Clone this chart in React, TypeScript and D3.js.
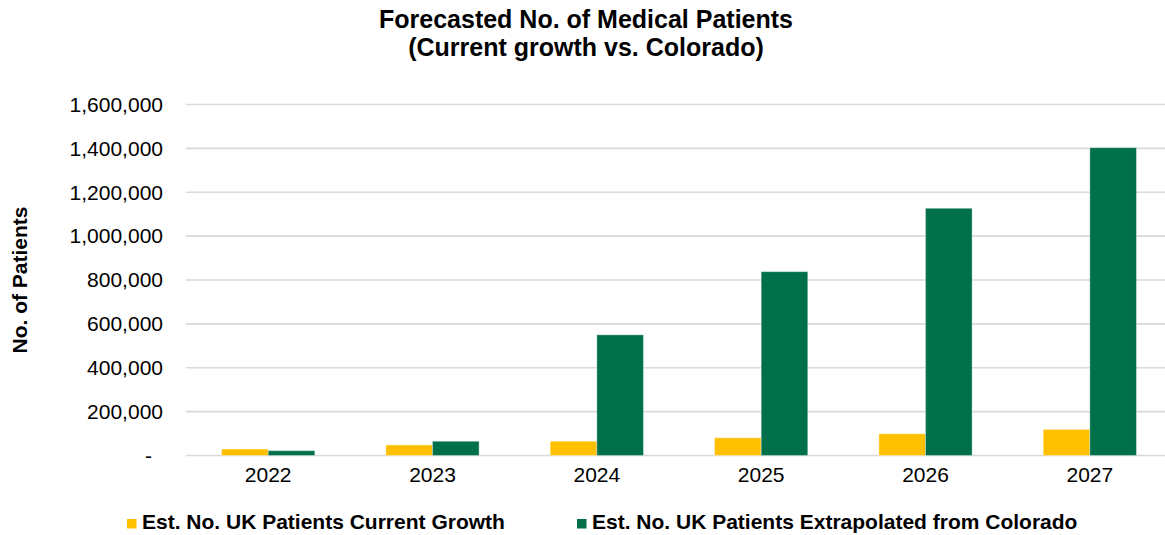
import { scaleBand, scaleLinear, format } from "d3";

const years = ["2022", "2023", "2024", "2025", "2026", "2027"];
const currentGrowth = [29000, 48000, 65000, 81000, 99000, 119000];
const fromColorado = [22000, 65000, 550000, 838000, 1127000, 1403000];
const yTicks = [0, 200000, 400000, 600000, 800000, 1000000, 1200000, 1400000, 1600000];
const seriesNames = [
  "Est. No. UK Patients Current Growth",
  "Est. No. UK Patients Extrapolated from Colorado",
];
const seriesColors = ["#FFC000", "#00704A"];

const width = 1165;
const height = 535;
const font = "'Liberation Sans', Arial, Helvetica, sans-serif";

export default function App() {
  const x = scaleBand(years, [186, 1172]);
  const inner = scaleBand(["a", "b"], [0, x.bandwidth()]).paddingOuter(0.763);
  const y = scaleLinear([0, 1600000], [455.5, 104.5]);
  const fmt = format(",");
  const series = [currentGrowth, fromColorado];
  const legendX = [127, 577];

  return (
    <svg
      width={width}
      height={height}
      style={{ position: "absolute", left: 0, top: 0, background: "#fff" }}
      fontFamily={font}
    >
      <text x={586} y={28} textAnchor="middle" fontSize={25} fontWeight="bold">
        Forecasted No. of Medical Patients
      </text>
      <text x={586} y={56} textAnchor="middle" fontSize={25} fontWeight="bold">
        (Current growth vs. Colorado)
      </text>

      {yTicks.map((t) => (
        <g key={t}>
          <line x1={186} x2={1172} y1={y(t)} y2={y(t)} stroke="#d9d9d9" strokeWidth={1.6} />
          <text
            x={t === 0 ? 152 : 163}
            y={y(t)}
            dy="0.35em"
            textAnchor="end"
            fontSize={21}
            fill="#000"
          >
            {t === 0 ? "-" : fmt(t)}
          </text>
        </g>
      ))}

      {years.map((yr, i) => (
        <g key={yr} transform={`translate(${x(yr)},0)`}>
          {series.map((vals, s) => (
            <rect
              key={s}
              x={inner(s === 0 ? "a" : "b")}
              width={inner.bandwidth()}
              y={y(vals[i])}
              height={y(0) - y(vals[i])}
              fill={seriesColors[s]}
              stroke="#ffffff"
              strokeOpacity={0.35}
              strokeWidth={1}
            />
          ))}
          <text x={x.bandwidth() / 2} y={482} textAnchor="middle" fontSize={21}>
            {yr}
          </text>
        </g>
      ))}

      <text
        transform="translate(27,280) rotate(-90)"
        textAnchor="middle"
        fontSize={21}
        fontWeight="bold"
      >
        No. of Patients
      </text>

      {seriesNames.map((name, s) => (
        <g key={name} transform={`translate(${legendX[s]},0)`}>
          <rect x={0} y={519} width={9.5} height={9.5} fill={seriesColors[s]} />
          <text x={15} y={528.5} fontSize={21} fontWeight="bold">
            {name}
          </text>
        </g>
      ))}
    </svg>
  );
}
